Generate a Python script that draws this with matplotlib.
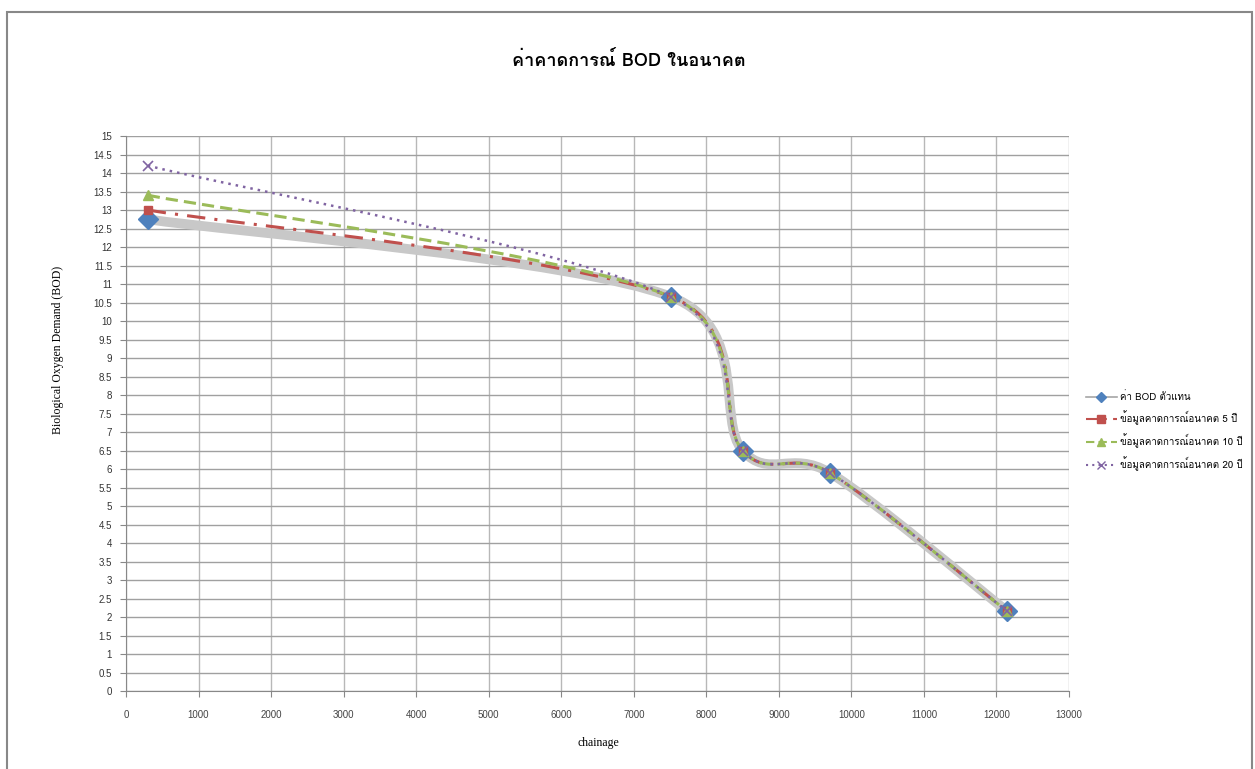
import numpy as np
import matplotlib
matplotlib.use("Agg")
import matplotlib.pyplot as plt
from matplotlib import font_manager
from matplotlib.ft2font import FT2Font
from matplotlib.path import Path
from matplotlib.patches import PathPatch, Rectangle
from matplotlib.lines import Line2D

# data
chainage = [300, 7520, 8500, 9700, 12150]
bod_rep = [12.75, 10.65, 6.5, 5.9, 2.15]
bod_5y = [13.0, 10.65, 6.5, 5.9, 2.15]
bod_10y = [13.4, 10.65, 6.5, 5.9, 2.15]
bod_20y = [14.2, 10.65, 6.5, 5.9, 2.15]

labels = ["ค่า BOD ตัวแทน",
          "ข้อมูลคาดการณ์อนาคต 5 ปี",
          "ข้อมูลคาดการณ์อนาคต 10 ปี",
          "ข้อมูลคาดการณ์อนาคต 20 ปี"]
title = "ค่าคาดการณ์ BOD ในอนาคต"


def find_thai_font():
    seen = set()
    for f in font_manager.fontManager.ttflist:
        if f.fname in seen:
            continue
        seen.add(f.fname)
        try:
            cmap = FT2Font(f.fname).get_charmap()
        except Exception:
            continue
        if 0x0E04 in cmap and 0x0E13 in cmap:
            return f.name
    return None


thai = find_thai_font()
fam = ([thai] if thai else []) + ["DejaVu Sans"]


def smooth_path(ax, xs, ys):
    # excel-like smoothed line, computed in display space
    pts = ax.transData.transform(np.column_stack([xs, ys]))
    n = len(pts)
    verts = [pts[0]]
    codes = [Path.MOVETO]
    for i in range(n - 1):
        p0 = pts[max(i - 1, 0)]
        p1 = pts[i]
        p2 = pts[i + 1]
        p3 = pts[min(i + 2, n - 1)]
        d12 = np.hypot(*(p2 - p1))
        d02 = np.hypot(*(p2 - p0))
        d13 = np.hypot(*(p3 - p1))
        f1 = 1 / 6.0 if d02 / 6.0 < d12 / 2.0 else d12 / (2.0 * d02)
        f2 = 1 / 6.0 if d13 / 6.0 < d12 / 2.0 else d12 / (2.0 * d13)
        c1 = p1 + (p2 - p0) * f1
        c2 = p2 - (p3 - p1) * f2
        verts += [c1, c2, p2]
        codes += [Path.CURVE4] * 3
    verts = ax.transData.inverted().transform(np.array(verts))
    return Path(verts, codes)


fig = plt.figure(figsize=(12.55, 7.69), dpi=100)
ax = fig.add_axes([0.1004, 0.1014, 0.7514, 0.7217])
ax.set_xlim(0, 13000)
ax.set_ylim(0, 15)

# chart border
fig.patches.append(Rectangle((7 / 1255, -0.05), 1245 / 1255, 1 - 12 / 769 + 0.05,
                             transform=fig.transFigure, fill=False,
                             edgecolor="#888888", lw=1.5))

ax.set_xticks(np.arange(0, 13001, 1000))
ax.set_yticks(np.arange(0, 15.01, 0.5))
ax.set_yticklabels([("%g" % v) for v in np.arange(0, 15.01, 0.5)])
ax.grid(True, axis="y", color="#a0a0a0", lw=1)
ax.grid(True, axis="x", color="#b8b8b8", lw=1)
ax.set_axisbelow(True)
for s in ["top", "right"]:
    ax.spines[s].set_visible(False)
for s in ["left", "bottom"]:
    ax.spines[s].set_color("#888888")
ax.tick_params(axis="x", length=4, color="#888888", pad=10, labelsize=7, labelcolor="#444444")
ax.tick_params(axis="y", length=4, color="#888888", pad=6, labelsize=7, labelcolor="#333333")
for t in ax.get_xticklabels() + ax.get_yticklabels():
    t.set_family("Liberation Sans")

series = [
    (bod_rep, dict(color="#c8c8c8", lw=7, ls="-"), dict(marker="D", ms=10, mfc="#4f81bd", mec="#4f81bd")),
    (bod_5y, dict(color="#c0504d", lw=2.2, ls=(0, (6, 3, 1, 3))), dict(marker="s", ms=6, mfc="#c0504d", mec="#c0504d")),
    (bod_10y, dict(color="#9bbb59", lw=2.2, ls=(0, (4, 2))), dict(marker="^", ms=7, mfc="#9bbb59", mec="#9bbb59")),
    (bod_20y, dict(color="#8064a2", lw=1.8, ls=(0, (1, 2))), dict(marker="x", ms=7, mec="#8064a2", mew=1.2)),
]

handles = []
for i, (ys, lst, mst) in enumerate(series):
    p = smooth_path(ax, chainage, ys)
    ax.add_patch(PathPatch(p, fill=False, edgecolor=lst["color"], lw=lst["lw"],
                           linestyle=lst["ls"], capstyle="butt", zorder=2 + i))
for i, (ys, lst, mst) in enumerate(series):
    ax.plot(chainage, ys, ls="none", zorder=6 + i, **mst)
    hl = dict(lst)
    if i == 0:
        hl["lw"] = 1.2
        hl["color"] = "#a6a6a6"
    else:
        hl["lw"] = 1.5
    handles.append(Line2D([], [], color=hl["color"], lw=hl["lw"], ls=hl["ls"],
                          marker=mst["marker"], ms=5.5, mfc=mst.get("mfc", "none"),
                          mec=mst["mec"]))

leg = fig.legend(handles, labels, loc="center left", bbox_to_anchor=(1077 / 1255, 1 - 431 / 769),
                 frameon=False, prop={"family": fam, "size": 7}, handlelength=3.2,
                 labelspacing=0.85, handletextpad=0.35)

fig.text(629 / 1255, 1 - 60 / 769, title, ha="center", va="center", fontsize=13,
         fontweight="bold", family=fam)
fig.text(598 / 1255, 1 - 743 / 769, "chainage", ha="center", va="center",
         fontsize=8.5, family="Liberation Serif")
fig.text(58 / 1255, 1 - 350 / 769, "Biological Oxygen Demand (BOD)", ha="center",
         va="center", rotation=90, fontsize=8.5, family="Liberation Serif")

fig.savefig("out.png", dpi=100)
